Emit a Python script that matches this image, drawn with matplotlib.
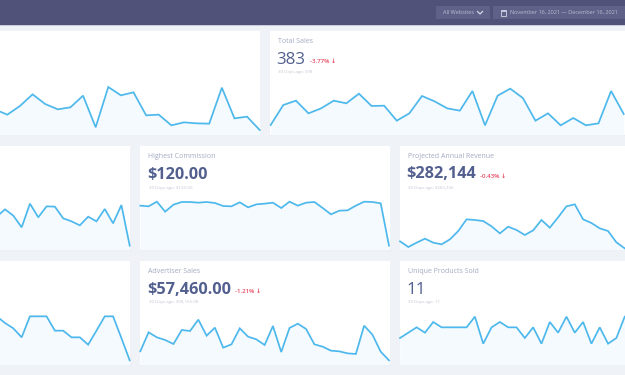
import numpy as np
import matplotlib.pyplot as plt
from matplotlib.patches import Rectangle

W, H = 625, 375
BG = '#eff2f7'
HEADER = '#50527a'
BUTTON = '#5f6189'
LINE = '#4db8ec'
FILL = '#f5fafe'
TITLE_C = '#a4a9c2'
VALUE_C = '#53608f'
SUB_C = '#c4c7d2'
RED = '#e8485f'

# heights above card bottom, in thirds of a pixel (card is 312 tall)
top_left = [77, 61, 87, 122, 93, 77, 83, 118, 23, 144, 119, 128, 59, 61, 29, 38, 35, 34, 142, 50, 55, 15]
total_sales = [30, 90, 103, 65, 80, 103, 95, 124, 87, 88, 43, 65, 117, 101, 80, 73, 132, 29, 118, 139,
               111, 43, 65, 29, 51, 29, 35, 132, 63]
mid_left = [100, 122, 103, 68, 139, 98, 131, 130, 95, 86, 74, 100, 86, 123, 80, 135, 13]
highest_commission = [133, 131, 145, 115, 136, 144, 144, 142, 144, 141, 132, 131, 143, 128, 137, 139,
                      142, 126, 145, 133, 142, 144, 126, 107, 118, 119, 133, 145, 144, 140, 13]
projected_revenue = [26, 9, 22, 34, 22, 17, 32, 57, 92, 90, 87, 71, 50, 70, 60, 45, 59, 90, 67, 98,
                     131, 137, 92, 81, 65, 57, 23, 5]
bottom_left = [146, 126, 110, 83, 146, 146, 146, 103, 103, 83, 83, 61, 103, 146, 146, 81, 14]
advertiser_sales = [41, 98, 83, 75, 63, 105, 102, 136, 88, 112, 52, 62, 110, 85, 77, 60, 117, 39, 111,
                    124, 108, 62, 55, 43, 41, 35, 33, 118, 91, 40, 14]
unique_products = [81, 97, 113, 97, 129, 113, 113, 113, 113, 145, 64, 113, 129, 113, 113, 81, 113, 64,
                   129, 97, 145, 97, 129, 64, 113, 64, 81, 145]

plt.rcParams['font.family'] = ['Open Sans', 'DejaVu Sans']

fig = plt.figure(figsize=(W / 100, H / 100), dpi=100, facecolor=BG)
bg = fig.add_axes([0, 0, 1, 1])
bg.set_xlim(0, W)
bg.set_ylim(H, 0)
bg.axis('off')

# header bar
bg.add_patch(Rectangle((0, 0), W, 25, fc=HEADER, ec='none'))
bg.add_patch(Rectangle((0, 25), W, 1, fc='#c9ccda', ec='none'))
bg.add_patch(Rectangle((436, 6), 54, 13, fc=BUTTON, ec='none'))
bg.add_patch(Rectangle((493, 6), 140, 13, fc=BUTTON, ec='none'))
bg.text(443, 12.7, 'All Websites', color='#b9bcd2', fontsize=3.95, va='center')
bg.plot([477.5, 480, 482.5], [11.5, 14, 11.5], color='#d5d7e4', lw=0.9)
bg.add_patch(Rectangle((500.5, 10), 5, 5.5, fc='none', ec='#c5c8da', lw=0.7))
bg.add_patch(Rectangle((500.5, 10), 5, 1.5, fc='#c5c8da', ec='none'))
bg.text(510, 12.7, 'November 16, 2021 — December 16, 2021', color='#b9bcd2', fontsize=3.95, va='center')


def card(x0, x1, y0, y1, px0, px1, values, title=None, value=None, change=None, sub=None, bold=False):
    bg.add_patch(Rectangle((x0, y0), x1 - x0, y1 - y0, fc='white', ec='none'))
    bg.plot([x0, x1], [y1 + 0.4, y1 + 0.4], color='#e6eaf0', lw=0.8)
    ax = fig.add_axes([px0 / W, 1 - y1 / H, (px1 - px0) / W, (y1 - y0) / H])
    x = np.arange(len(values))
    ax.fill_between(x, values, 0, color=FILL, lw=0)
    ax.plot(x, values, color=LINE, lw=1.25, solid_joinstyle='miter', clip_on=False)
    ax.set_xlim(0, len(values) - 1)
    ax.set_ylim(0, 312)
    ax.axis('off')
    ax.patch.set_alpha(0)
    if title is None:
        return
    tx = x0 + 7.5
    bg.text(tx, y0 + 10.5, title, color=TITLE_C, fontsize=5.0, va='center')
    t = bg.text(tx - 0.8, y0 + 28.5, value, color=VALUE_C, fontsize=11.7 if bold else 12.2, va='center',
                fontweight='bold' if bold else 'normal')
    if change is not None:
        fig.canvas.draw()
        box = t.get_window_extent()
        bg.text(box.x1 + 4, y0 + 30, change, color=RED, fontsize=4.4, va='center', fontweight='semibold')
    bg.text(tx + 1, y0 + 41.5, sub, color=SUB_C, fontsize=3.2, va='center')


card(-20, 260, 31, 135, -5.3, 259.7, top_left)
card(270, 640, 31, 135, 270.7, 623.7, total_sales, 'Total Sales', '383', '-3.77% ↓', '30 Days ago: 398')
card(-20, 130, 146, 250, -3.3, 129.7, mid_left)
card(140.3, 389.7, 146, 250, 140.3, 389, highest_commission, 'Highest Commission', '$120.00', None,
     '30 Days ago: $120.00', bold=True)
card(400, 640, 146, 250, 400, 624.7, projected_revenue, 'Projected Annual Revenue', '$282,144', '-0.43% ↓',
     '30 Days ago: $283,356', bold=True)
card(-20, 130, 261, 365, -3.3, 129.7, bottom_left)
card(140.3, 389.7, 261, 365, 140.3, 389, advertiser_sales, 'Advertiser Sales', '$57,460.00', '-1.21% ↓',
     '30 Days ago: $58,165.08', bold=True)
card(400, 640, 261, 365, 400, 624.7, unique_products, 'Unique Products Sold', '11', None, '30 Days ago: 11')

fig.savefig('out.png', dpi=100, facecolor=BG)
